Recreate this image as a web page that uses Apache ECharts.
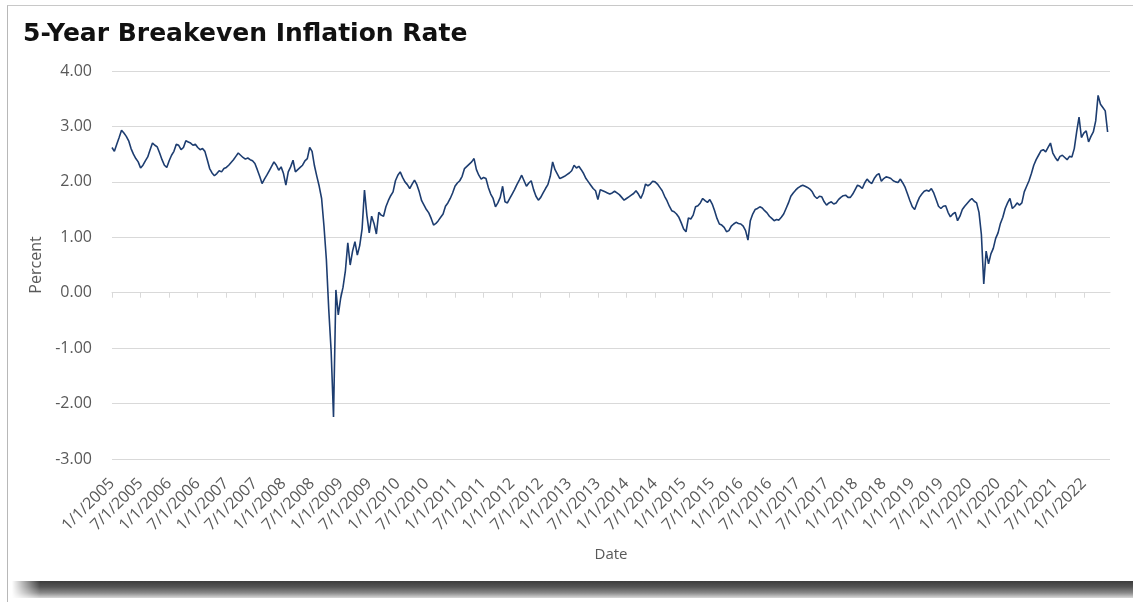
<!DOCTYPE html>
<html>
<head>
<meta charset="utf-8">
<script src="https://cdn.jsdelivr.net/npm/echarts@6/dist/echarts.min.js"></script>
<style>
  html, body { margin: 0; padding: 0; background: #ffffff; }
  #wrap { position: relative; width: 1133px; height: 602px; overflow: hidden; background: #fff; }
  #frame { position: absolute; left: 7px; top: 5px; width: 1140px; height: 620px; border-left: 1px solid #b8b8b8; border-top: 1px solid #c8c8c8; }
  #shadow { position: absolute; left: 12px; top: 581px; width: 1125px; height: 17px;
    background: linear-gradient(to bottom, #3c3c3c 0%, #555 35%, #8a8a8a 70%, #d8d8d8 100%);
    -webkit-mask-image: linear-gradient(to right, transparent 0px, #000 28px);
    mask-image: linear-gradient(to right, transparent 0px, #000 28px); }
  #chart { position: absolute; left: 0; top: 0; width: 1133px; height: 602px; }
</style>
</head>
<body>
<div id="wrap">
  <div id="frame"></div>
  <div id="shadow"></div>
  <div id="chart"></div>
</div>
<script>
// Semi-monthly readings (1st and 16th of each month), percent
const v2005 = [2.62,2.55,2.68,2.80,2.93,2.88,2.82,2.74,2.60,2.50,2.42,2.36,2.25,2.30,2.38,2.45,2.58,2.70,2.66,2.63,2.52,2.40,2.30,2.26];
const v2006 = [2.38,2.48,2.55,2.68,2.66,2.58,2.62,2.74,2.72,2.70,2.66,2.68,2.62,2.58,2.60,2.55,2.40,2.24,2.16,2.11,2.15,2.20,2.18,2.24];
const v2007 = [2.26,2.30,2.35,2.40,2.46,2.52,2.48,2.44,2.41,2.43,2.40,2.38,2.33,2.22,2.10,1.97,2.05,2.12,2.20,2.28,2.36,2.30,2.21,2.27];
const v2008 = [2.15,1.94,2.18,2.27,2.39,2.18,2.22,2.26,2.30,2.38,2.42,2.62,2.55,2.29,2.10,1.92,1.70,1.20,0.60,-0.30,-1.05,-2.24,0.05,-0.40];
const v2009 = [-0.10,0.10,0.40,0.90,0.50,0.75,0.92,0.68,0.85,1.15,1.85,1.40,1.08,1.38,1.25,1.06,1.45,1.40,1.38,1.55,1.66,1.75,1.82,2.02];
const v2010 = [2.12,2.18,2.08,2.00,1.95,1.88,1.96,2.03,1.95,1.82,1.66,1.58,1.50,1.44,1.34,1.22,1.25,1.30,1.36,1.42,1.56,1.62,1.70,1.80];
const v2011 = [1.92,1.98,2.02,2.10,2.24,2.28,2.32,2.36,2.42,2.22,2.12,2.05,2.08,2.06,1.90,1.78,1.70,1.55,1.62,1.72,1.92,1.64,1.62,1.70];
const v2012 = [1.78,1.86,1.95,2.03,2.12,2.02,1.92,1.98,2.02,1.86,1.74,1.67,1.72,1.80,1.88,1.95,2.10,2.36,2.22,2.14,2.06,2.08,2.10,2.13];
const v2013 = [2.16,2.20,2.30,2.25,2.28,2.22,2.15,2.06,2.00,1.94,1.88,1.84,1.68,1.86,1.84,1.82,1.80,1.78,1.80,1.83,1.80,1.77,1.72,1.67];
const v2014 = [1.70,1.73,1.76,1.79,1.84,1.78,1.70,1.80,1.96,1.93,1.96,2.01,2.00,1.96,1.90,1.84,1.74,1.66,1.56,1.48,1.46,1.42,1.36,1.26];
const v2015 = [1.15,1.10,1.35,1.33,1.40,1.55,1.57,1.62,1.70,1.66,1.63,1.68,1.60,1.48,1.34,1.24,1.22,1.18,1.10,1.12,1.20,1.24,1.27,1.25];
const v2016 = [1.24,1.20,1.12,0.95,1.30,1.42,1.50,1.52,1.55,1.53,1.48,1.44,1.38,1.34,1.30,1.32,1.31,1.36,1.42,1.52,1.62,1.74,1.80,1.85];
const v2017 = [1.89,1.92,1.94,1.92,1.90,1.87,1.82,1.74,1.70,1.74,1.73,1.64,1.58,1.62,1.64,1.60,1.62,1.68,1.72,1.75,1.76,1.72,1.72,1.78];
const v2018 = [1.86,1.94,1.92,1.88,1.98,2.05,2.00,1.97,2.06,2.12,2.15,2.01,2.06,2.09,2.08,2.06,2.02,2.00,1.99,2.05,1.98,1.90,1.78,1.66];
const v2019 = [1.55,1.50,1.62,1.72,1.78,1.83,1.85,1.83,1.88,1.80,1.68,1.56,1.52,1.56,1.57,1.45,1.37,1.42,1.45,1.30,1.38,1.50,1.56,1.61];
const v2020 = [1.66,1.70,1.65,1.62,1.45,1.05,0.16,0.75,0.52,0.70,0.80,0.98,1.08,1.25,1.36,1.52,1.62,1.70,1.52,1.56,1.62,1.58,1.62,1.82];
const v2021 = [1.92,2.02,2.15,2.30,2.40,2.48,2.56,2.58,2.54,2.62,2.70,2.52,2.44,2.38,2.46,2.48,2.44,2.40,2.46,2.45,2.60,2.90,3.17,2.80];
const v2022 = [2.88,2.92,2.72,2.82,2.90,3.10,3.56,3.40,3.34,3.28,2.90];

const xTickLabels = [
  '1/1/2005','7/1/2005','1/1/2006','7/1/2006','1/1/2007','7/1/2007','1/1/2008','7/1/2008',
  '1/1/2009','7/1/2009','1/1/2010','7/1/2010','1/1/2011','7/1/2011','1/1/2012','7/1/2012',
  '1/1/2013','7/1/2013','1/1/2014','7/1/2014','1/1/2015','7/1/2015','1/1/2016','7/1/2016',
  '1/1/2017','7/1/2017','1/1/2018','7/1/2018','1/1/2019','7/1/2019','1/1/2020','7/1/2020',
  '1/1/2021','7/1/2021','1/1/2022'
];
const yTicks = [-3, -2, -1, 0, 1, 2, 3, 4];

const allValues = [].concat(v2005, v2006, v2007, v2008, v2009, v2010, v2011, v2012, v2013,
  v2014, v2015, v2016, v2017, v2018, v2019, v2020, v2021, v2022);
// x = months since 1/1/2005, each reading half a month apart
const seriesData = allValues.map((v, i) => [i * 0.5, v]);
const tickMonths = xTickLabels.map((_, i) => i * 6);
const labelByMonth = {};
tickMonths.forEach((m, i) => { labelByMonth[m] = xTickLabels[i]; });

const chart = echarts.init(document.getElementById('chart'), null, { renderer: 'canvas' });
const gray = '#595959';
const FONT = '"Open Sans", "Noto Sans", sans-serif';
chart.setOption({
  animation: false,
  backgroundColor: 'transparent',
  title: {
    text: '5-Year Breakeven Inflation Rate',
    left: 18, top: 17,
    textStyle: { fontFamily: '"DejaVu Sans", sans-serif', fontWeight: 'bold', fontSize: 25, color: '#111' }
  },
  grid: { left: 112, right: 23, top: 71, bottom: 143, containLabel: false },
  xAxis: [
    {
      type: 'value', min: 0, max: 209.5, interval: 6, position: 'bottom',
      axisLine: { show: false, onZero: false },
      axisTick: { show: false },
      splitLine: { show: false },
      axisLabel: {
        customValues: tickMonths,
        rotate: 45, margin: 22, color: gray, fontSize: 16, fontFamily: FONT,
        formatter: v => labelByMonth[v] || ''
      },
      name: 'Date', nameLocation: 'middle', nameGap: 88,
      nameTextStyle: { color: gray, fontSize: 15, fontFamily: FONT }
    },
    {
      type: 'value', min: 0, max: 209.5, interval: 6, position: 'bottom',
      axisLine: { show: true, onZero: true, lineStyle: { color: '#d9d9d9', width: 1 } },
      axisTick: { show: true, customValues: tickMonths, length: 5, lineStyle: { color: '#d9d9d9' } },
      axisLabel: { show: false },
      splitLine: { show: false }
    }
  ],
  yAxis: {
    type: 'value', min: -3, max: 4, interval: 1,
    axisLine: { show: false }, axisTick: { show: false },
    splitLine: { lineStyle: { color: '#d9d9d9', width: 1 } },
    axisLabel: { color: gray, fontSize: 16, fontFamily: FONT, margin: 20,
      formatter: v => v.toFixed(2) },
    name: 'Percent', nameLocation: 'middle', nameGap: 68, nameRotate: 90,
    nameTextStyle: { color: gray, fontSize: 16, fontFamily: FONT }
  },
  series: [{
    type: 'line', xAxisIndex: 0, data: seriesData,
    showSymbol: false, symbol: 'none',
    lineStyle: { color: '#1d3d70', width: 1.6 },
    itemStyle: { color: '#1d3d70' }
  }]
});
</script>
</body>
</html>
